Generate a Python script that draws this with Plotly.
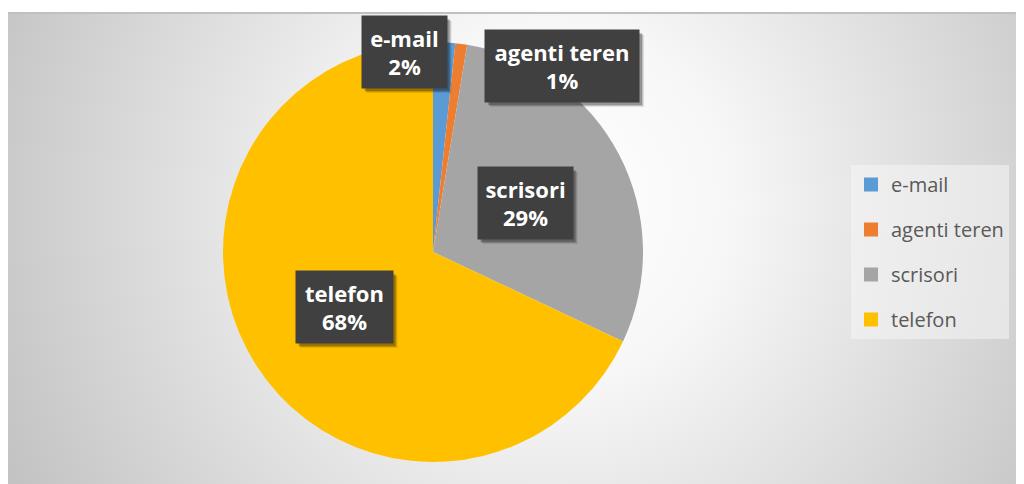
import base64
import plotly.graph_objects as go

# ---- data ----
categories = ["e-mail", "agenti teren", "scrisori", "telefon"]
values = [1.7, 0.9, 29.4, 68.0]
colors = ["#5B9BD5", "#ED7D31", "#A5A5A5", "#FFC000"]

W, H = 1024, 484
OFF = 8  # page offset of the figure inside the browser window

# ---- label box placement (page pixel centres, widths) ----
label_centers = [(404, 52), (562, 66), (525, 203), (344, 307)]
label_widths = [85, 154, 95, 97]
label_height = 72


def px(x):
    return (x - OFF) / W


def py(y):
    return 1 - (y - OFF) / H


total = sum(values)
pct_text = [f"{round(v / total * 100):.0f}%" for v in values]

fig = go.Figure()

fig.add_trace(go.Pie(
    labels=categories,
    values=values,
    sort=False,
    direction="clockwise",
    rotation=0,
    marker=dict(colors=colors, line=dict(width=0)),
    textinfo="none",
    hoverinfo="label+percent",
    showlegend=False,
    domain=dict(x=[px(223), px(643)], y=[py(462), py(42)]),
))

# legend entries (one per category)
for cat, col in zip(categories, colors):
    fig.add_trace(go.Scatter(
        x=[None], y=[None], mode="markers", name=cat,
        legendgroup=cat,
        marker=dict(symbol="square", size=14, color=col),
        hoverinfo="skip",
    ))

# background radial gradient (chart area starts at page (8, 13))
ax0, ay0 = 8, 13
bw, bh = W, H
svg = (
    f'<svg xmlns="http://www.w3.org/2000/svg" width="{bw}" height="{bh}">'
    f'<defs><radialGradient id="g" gradientUnits="userSpaceOnUse" cx="540" cy="190" r="600">'
    f'<stop offset="0" stop-color="#ffffff"/>'
    f'<stop offset="0.3" stop-color="#f7f7f7"/>'
    f'<stop offset="1" stop-color="#c3c3c3"/>'
    f'</radialGradient></defs>'
    f'<rect width="{bw}" height="{bh}" fill="url(#g)"/></svg>'
)
uri = "data:image/svg+xml;base64," + base64.b64encode(svg.encode()).decode()

fig.add_layout_image(dict(
    source=uri, xref="paper", yref="paper",
    x=px(ax0), y=py(ay0), sizex=bw / W, sizey=bh / H,
    xanchor="left", yanchor="top", sizing="stretch", layer="below",
))

# top border line
fig.add_shape(type="line", xref="paper", yref="paper",
              x0=px(ax0), x1=1, y0=py(ay0), y1=py(ay0),
              line=dict(color="#c0c0c0", width=2))

# data labels (dark boxes with a soft shadow)
for cat, p, (cx, cy), w in zip(categories, pct_text, label_centers, label_widths):
    for k, a in ((5, 0.10), (4, 0.15), (3, 0.22)):
        fig.add_shape(
            type="rect", xref="paper", yref="paper",
            x0=px(cx - w / 2 + k), x1=px(cx + w / 2 + k),
            y0=py(cy + label_height / 2 + k), y1=py(cy - label_height / 2 + k),
            fillcolor=f"rgba(0,0,0,{a})", line=dict(width=0),
        )
    fig.add_annotation(
        x=px(cx), y=py(cy), xref="paper", yref="paper",
        xanchor="center", yanchor="middle",
        text=f"<b>{cat}<br>{p}</b>", showarrow=False,
        width=w, height=label_height,
        bgcolor="#404040", borderpad=0, align="center", valign="middle",
        font=dict(family="Open Sans", size=22, color="#ffffff"),
    )

fig.update_layout(
    width=W, height=H,
    margin=dict(l=0, r=0, t=0, b=0),
    paper_bgcolor="#ffffff",
    plot_bgcolor="rgba(0,0,0,0)",
    xaxis=dict(visible=False, domain=[0, 0.01]),
    yaxis=dict(visible=False, domain=[0, 0.01]),
    legend=dict(
        x=px(851), y=py(165), xanchor="left", yanchor="top",
        bgcolor="rgba(245,245,245,0.55)",
        font=dict(family="Open Sans", size=20, color="#595959"),
        tracegroupgap=16,
        itemsizing="trace",
        borderwidth=0,
    ),
    showlegend=True,
)

fig.write_html("out.html")
